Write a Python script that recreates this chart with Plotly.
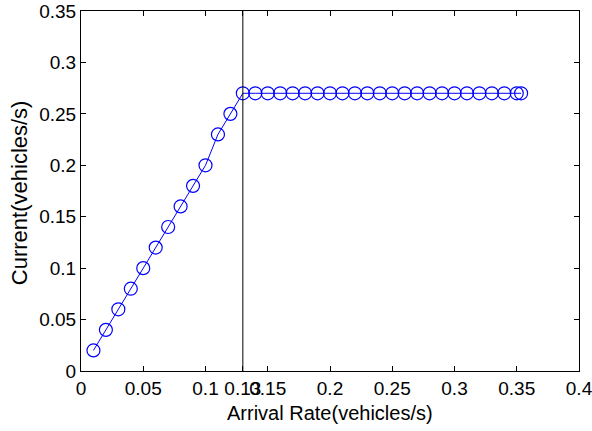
import plotly.graph_objects as go

arrival_rate = [0.01, 0.02, 0.03, 0.04, 0.05, 0.06, 0.07, 0.08, 0.09, 0.10,
                0.11, 0.12, 0.13, 0.14, 0.15, 0.16, 0.17, 0.18, 0.19, 0.20,
                0.21, 0.22, 0.23, 0.24, 0.25, 0.26, 0.27, 0.28, 0.29, 0.30,
                0.31, 0.32, 0.33, 0.34, 0.35, 0.3535]
current = [0.02, 0.04, 0.06, 0.08, 0.10, 0.12, 0.14, 0.16, 0.18, 0.20,
           0.23, 0.25, 0.27, 0.27, 0.27, 0.27, 0.27, 0.27, 0.27, 0.27,
           0.27, 0.27, 0.27, 0.27, 0.27, 0.27, 0.27, 0.27, 0.27, 0.27,
           0.27, 0.27, 0.27, 0.27, 0.27, 0.27]
critical_rate = 0.13
y_range = [0, 0.35]

x_ticks = [0, 0.05, 0.1, 0.13, 0.15, 0.2, 0.25, 0.3, 0.35, 0.4]
x_tick_text = ["0", "0.05", "0.1", "0.13", "0.15", "0.2", "0.25", "0.3", "0.35", "0.4"]
y_ticks = [0, 0.05, 0.1, 0.15, 0.2, 0.25, 0.3, 0.35]
y_tick_text = ["0", "0.05", "0.1", "0.15", "0.2", "0.25", "0.3", "0.35"]
x_title = "Arrival Rate(vehicles/s)"
y_title = "Current(vehicles/s)"

fig = go.Figure()
fig.add_trace(go.Scatter(
    x=arrival_rate, y=current, mode="lines+markers",
    line=dict(color="#0000FF", width=1),
    marker=dict(symbol="circle-open", size=13, color="#0000FF", line=dict(width=1.2)),
    showlegend=False, cliponaxis=False,
))
fig.add_trace(go.Scatter(
    x=[critical_rate, critical_rate], y=y_range, mode="lines",
    line=dict(color="black", width=1), showlegend=False,
))

fam = "Liberation Sans, Arial, sans-serif"
tick_font = dict(family=fam, size=19, color="black")
fig.update_layout(
    width=592, height=431,
    margin=dict(l=81, r=13, t=11, b=60),
    paper_bgcolor="white", plot_bgcolor="white",
    font=dict(family=fam, size=19, color="black"),
    xaxis=dict(
        range=[0, 0.4], tickmode="array", tickvals=x_ticks, ticktext=x_tick_text,
        tickangle=0, automargin=False, ticklabeloverflow="allow",
        showgrid=False, zeroline=False, showline=True, linecolor="black", linewidth=1,
        mirror="ticks", ticks="inside", ticklen=5, tickcolor="black",
        tickfont=tick_font,
    ),
    yaxis=dict(
        range=y_range, tickmode="array", tickvals=y_ticks, ticktext=y_tick_text,
        tickangle=0, automargin=False, ticklabeloverflow="allow",
        showgrid=False, zeroline=False, showline=True, linecolor="black", linewidth=1,
        mirror="ticks", ticks="inside", ticklen=5, tickcolor="black",
        tickfont=tick_font,
    ),
    annotations=[
        dict(text=x_title, xref="paper", yref="paper", x=0.5, y=0,
             xanchor="center", yanchor="middle", yshift=-42, showarrow=False,
             font=dict(family=fam, size=20, color="black")),
        dict(text=y_title, xref="paper", yref="paper", x=0, y=0.494,
             xanchor="center", yanchor="middle", xshift=-62, textangle=-90,
             showarrow=False, font=dict(family=fam, size=22, color="black")),
    ],
)

fig.write_html("out.html")
